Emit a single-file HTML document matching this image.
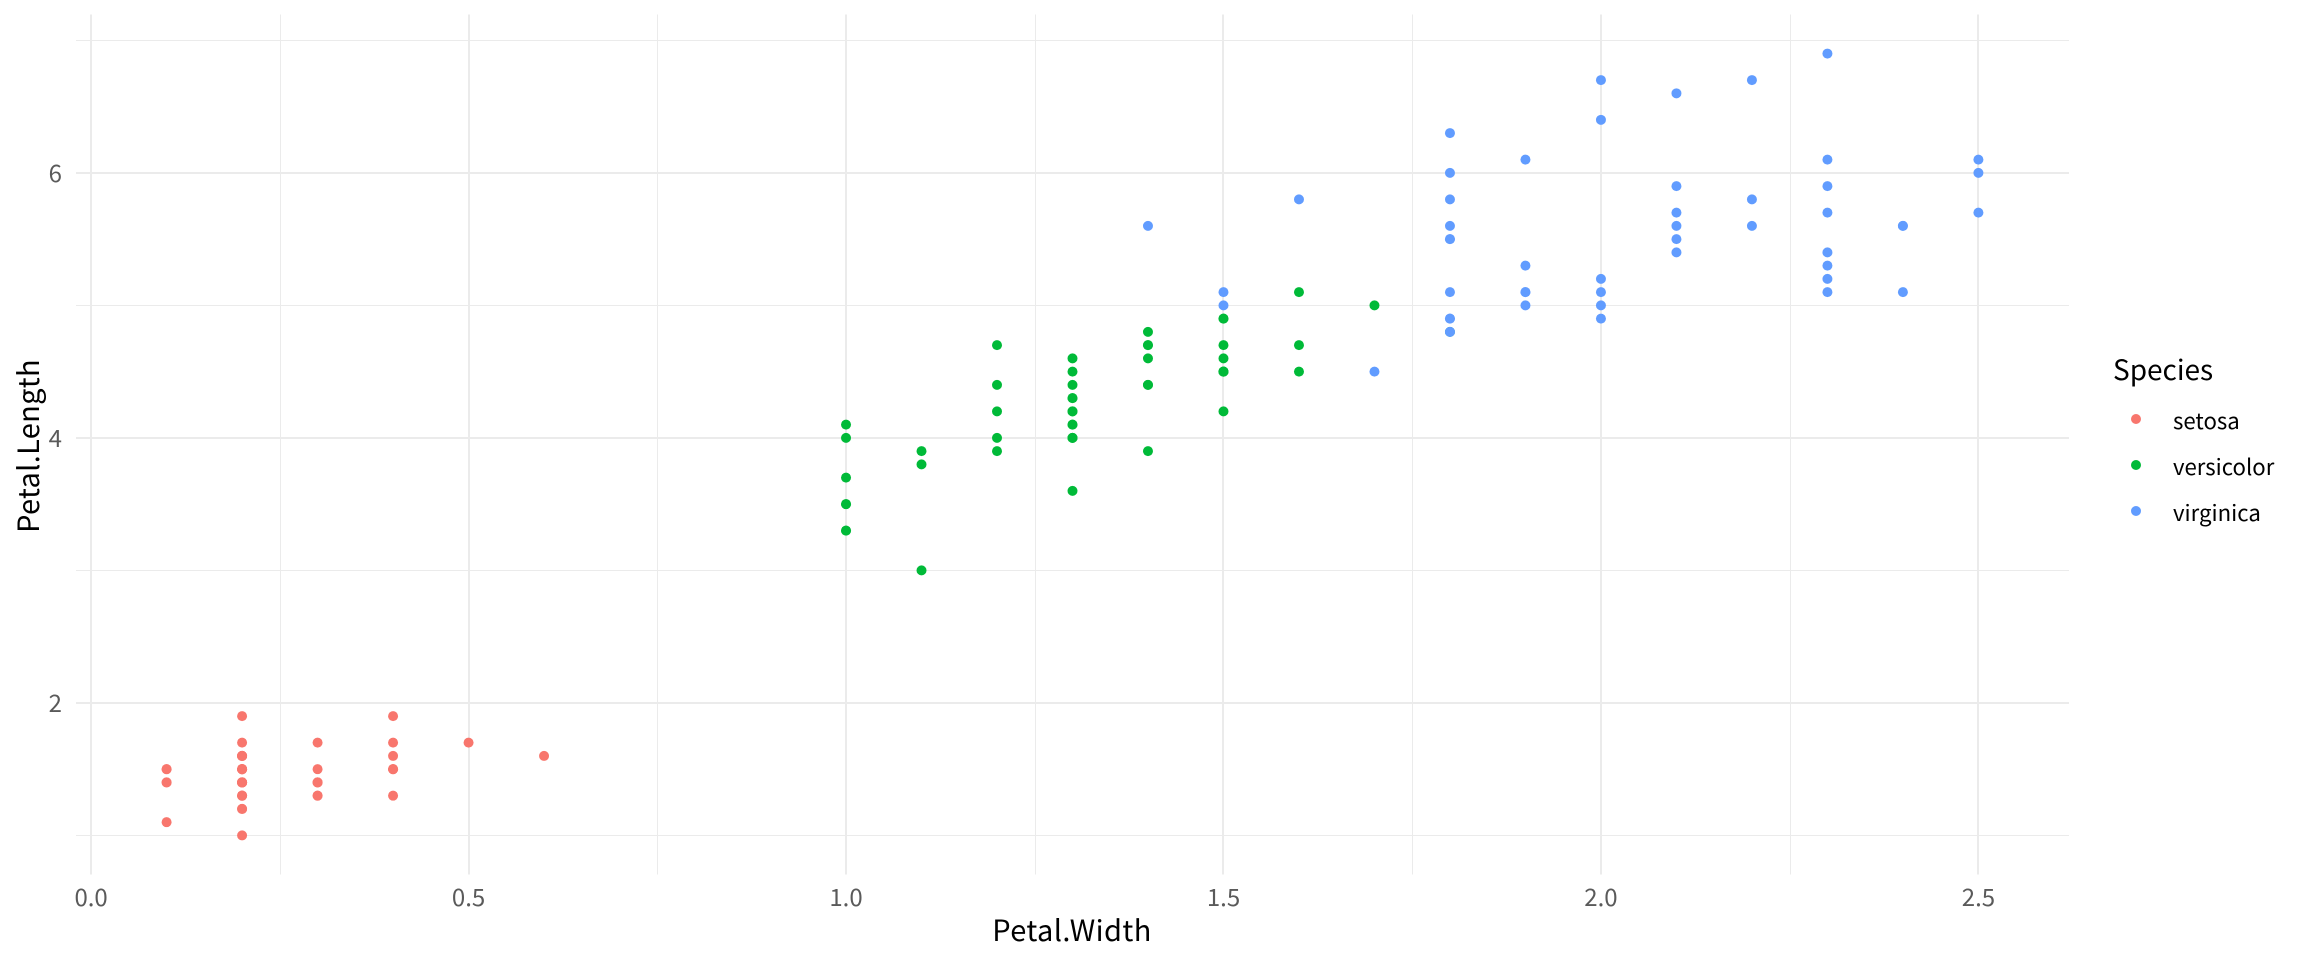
<!DOCTYPE html>
<html lang="en">
<head>
<meta charset="utf-8">
<title>Iris scatter plot</title>
<style>
  html, body { margin: 0; padding: 0; background: #fff; width: 2304px; height: 960px; overflow: hidden; }
  svg { display: block; }
  text { font-family: "Noto Sans CJK KR", "Liberation Sans", sans-serif; }
  .tick { font-size: 24px; fill: #5A5A5A; }
  .title { font-size: 29px; fill: #000; }
  .legend-title-text { font-size: 28px; fill: #000; }
  .legend-label { font-size: 22.2px; fill: #000; }
</style>
</head>
<body>
<svg id="chart" xmlns="http://www.w3.org/2000/svg" width="2304" height="960" viewBox="0 0 2304 960">
  <rect x="0" y="0" width="2304" height="960" fill="#ffffff"/>
  <g id="grid"></g>
  <g id="x-ticks"></g>
  <g id="y-ticks"></g>
  <g id="points"></g>
  <text class="title" x="1072" y="941" text-anchor="middle" letter-spacing="0.4">Petal.Width</text>
  <text class="title" x="0" y="0" text-anchor="middle" letter-spacing="0.3" transform="translate(39 446) rotate(-90)">Petal.Length</text>
  <g id="legend">
    <text class="legend-title-text" x="2113" y="380">Species</text>
  </g>
</svg>
<script>
const speciesNames = ['setosa', 'versicolor', 'virginica'];
const speciesColors = ['#F8766D', '#00BA38', '#619CFF'];

const setosaWidth = [0.2,0.2,0.2,0.2,0.2,0.4,0.3,0.2,0.2,0.1,0.2,0.2,0.1,0.1,0.2,0.4,0.4,0.3,0.3,0.3,0.2,0.4,0.2,0.5,0.2,0.2,0.4,0.2,0.2,0.2,0.2,0.4,0.1,0.2,0.2,0.2,0.2,0.1,0.2,0.2,0.3,0.3,0.2,0.6,0.4,0.3,0.2,0.2,0.2,0.2];
const setosaLength = [1.4,1.4,1.3,1.5,1.4,1.7,1.4,1.5,1.4,1.5,1.5,1.6,1.4,1.1,1.2,1.5,1.3,1.4,1.7,1.5,1.7,1.5,1.0,1.7,1.9,1.6,1.6,1.5,1.4,1.6,1.6,1.5,1.5,1.4,1.5,1.2,1.3,1.4,1.3,1.5,1.3,1.3,1.3,1.6,1.9,1.4,1.6,1.4,1.5,1.4];
const versicolorWidth = [1.4,1.5,1.5,1.3,1.5,1.3,1.6,1.0,1.3,1.4,1.0,1.5,1.0,1.4,1.3,1.4,1.5,1.0,1.5,1.1,1.8,1.3,1.5,1.2,1.3,1.4,1.4,1.7,1.5,1.0,1.1,1.0,1.2,1.6,1.5,1.6,1.5,1.3,1.3,1.3,1.2,1.4,1.2,1.0,1.3,1.2,1.3,1.3,1.1,1.3];
const versicolorLength = [4.7,4.5,4.9,4.0,4.6,4.5,4.7,3.3,4.6,3.9,3.5,4.2,4.0,4.7,3.6,4.4,4.5,4.1,4.5,3.9,4.8,4.0,4.9,4.7,4.3,4.4,4.8,5.0,4.5,3.5,3.8,3.7,3.9,5.1,4.5,4.5,4.7,4.4,4.1,4.0,4.4,4.6,4.0,3.3,4.2,4.2,4.2,4.3,3.0,4.1];
const virginicaWidth = [2.5,1.9,2.1,1.8,2.2,2.1,1.7,1.8,1.8,2.5,2.0,1.9,2.1,2.0,2.4,2.3,1.8,2.2,2.3,1.5,2.3,2.0,2.0,1.8,2.1,1.8,1.8,1.8,2.1,1.6,1.9,2.0,2.2,1.5,1.4,2.3,2.4,1.8,1.8,2.1,2.4,2.3,1.9,2.3,2.5,2.3,1.9,2.0,2.3,1.8];
const virginicaLength = [6.0,5.1,5.9,5.6,5.8,6.6,4.5,6.3,5.8,6.1,5.1,5.3,5.5,5.0,5.1,5.3,5.5,6.7,6.9,5.0,5.7,4.9,6.7,4.9,5.7,6.0,4.8,4.9,5.6,5.8,6.1,6.4,5.6,5.1,5.6,6.1,5.6,5.5,4.8,5.4,5.6,5.1,5.1,5.9,5.7,5.2,5.0,5.2,5.4,5.1];

const xTickValues = [0, 0.5, 1, 1.5, 2, 2.5];
const xTickLabels = ['0.0', '0.5', '1.0', '1.5', '2.0', '2.5'];
const xMinorValues = [0.25, 0.75, 1.25, 1.75, 2.25];
const yTickValues = [2, 4, 6];
const yTickLabels = ['2', '4', '6'];
const yMinorValues = [1, 3, 5, 7];

const NS = 'http://www.w3.org/2000/svg';
const panelLeft = 76, panelRight = 2069, panelTop = 14.5, panelBottom = 874.5;
const allX = setosaWidth.concat(versicolorWidth, virginicaWidth);
const allY = setosaLength.concat(versicolorLength, virginicaLength);
const xLo = Math.min(...allX), xHi = Math.max(...allX);
const yLo = Math.min(...allY), yHi = Math.max(...allY);
const xPad = (xHi - xLo) * 0.05, yPad = (yHi - yLo) * 0.05;

function xScale(v) {
  return panelLeft + (v - (xLo - xPad)) / ((xHi + xPad) - (xLo - xPad)) * (panelRight - panelLeft);
}
function yScale(v) {
  return panelBottom - (v - (yLo - yPad)) / ((yHi + yPad) - (yLo - yPad)) * (panelBottom - panelTop);
}

function gridLine(x1, y1, x2, y2, width) {
  const line = document.createElementNS(NS, 'line');
  line.setAttribute('x1', x1);
  line.setAttribute('y1', y1);
  line.setAttribute('x2', x2);
  line.setAttribute('y2', y2);
  line.setAttribute('stroke', '#EBEBEB');
  line.setAttribute('stroke-width', width);
  line.setAttribute('shape-rendering', 'crispEdges');
  document.getElementById('grid').appendChild(line);
  return line;
}

yMinorValues.forEach(function (v) {
  const l = gridLine(panelLeft, Math.round(yScale(v)) + 0.5, panelRight, Math.round(yScale(v)) + 0.5, 1);
  
  
});
xMinorValues.forEach(function (v) {
  const l = gridLine(Math.round(xScale(v)) + 0.5, panelTop, Math.round(xScale(v)) + 0.5, panelBottom, 1);
  
  
});
yTickValues.forEach(function (v) {
  const l = gridLine(panelLeft, Math.round(yScale(v)), panelRight, Math.round(yScale(v)), 2);
  
  
});
xTickValues.forEach(function (v) {
  const l = gridLine(Math.round(xScale(v)), panelTop, Math.round(xScale(v)), panelBottom, 2);
  
  
});

xTickValues.forEach(function (v, i) {
  const t = document.createElementNS(NS, 'text');
  
  
  t.setAttribute('class', 'tick');
  t.setAttribute('x', xScale(v));
  t.setAttribute('y', 906);
  t.setAttribute('text-anchor', 'middle');
  t.textContent = xTickLabels[i];
  document.getElementById('x-ticks').appendChild(t);
});
yTickValues.forEach(function (v, i) {
  const t = document.createElementNS(NS, 'text');
  
  
  t.setAttribute('class', 'tick');
  t.setAttribute('x', 62);
  t.setAttribute('y', yScale(v) + 9);
  t.setAttribute('text-anchor', 'end');
  t.textContent = yTickLabels[i];
  document.getElementById('y-ticks').appendChild(t);
});

function drawSeries(widths, lengths, color, name) {
  widths.forEach(function (w, i) {
    const c = document.createElementNS(NS, 'circle');
    
    
    c.setAttribute('cx', xScale(w));
    c.setAttribute('cy', yScale(lengths[i]));
    c.setAttribute('r', 5);
    c.setAttribute('fill', color);
    document.getElementById('points').appendChild(c);
  });
}
drawSeries(setosaWidth, setosaLength, speciesColors[0], speciesNames[0]);
drawSeries(versicolorWidth, versicolorLength, speciesColors[1], speciesNames[1]);
drawSeries(virginicaWidth, virginicaLength, speciesColors[2], speciesNames[2]);

speciesNames.forEach(function (name, i) {
  const rowY = 419 + i * 46;
  const c = document.createElementNS(NS, 'circle');
  
  
  c.setAttribute('cx', 2136);
  c.setAttribute('cy', rowY);
  c.setAttribute('r', 5);
  c.setAttribute('fill', speciesColors[i]);
  document.getElementById('legend').appendChild(c);
  const t = document.createElementNS(NS, 'text');
  
  
  t.setAttribute('class', 'legend-label');
  t.setAttribute('x', 2173);
  t.setAttribute('y', rowY + 10);
  t.textContent = name;
  document.getElementById('legend').appendChild(t);
});
</script>
</body>
</html>
